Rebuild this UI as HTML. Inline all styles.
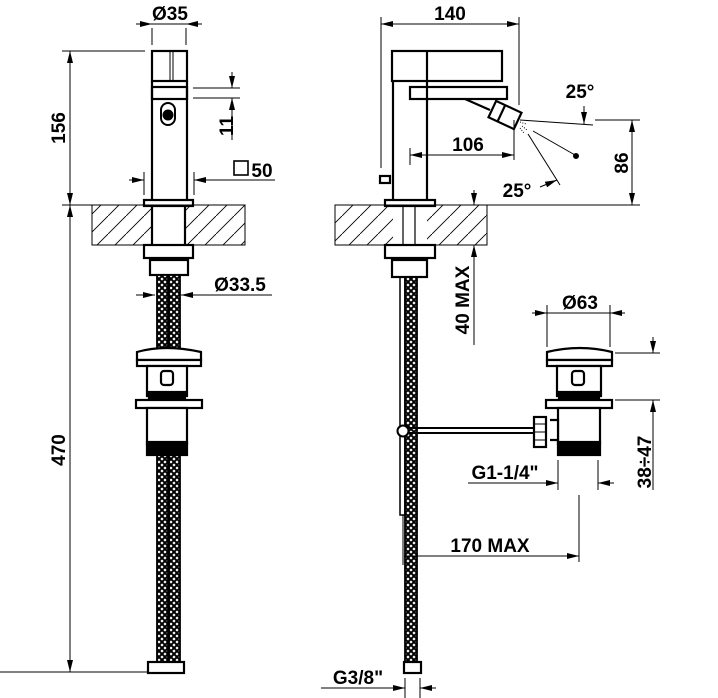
<!DOCTYPE html>
<html><head><style>html,body{margin:0;padding:0;background:#fff}svg{display:block}text{font-family:"Liberation Sans",Arial,sans-serif;font-weight:bold;fill:#000}</style></head><body>
<svg width="718" height="698" viewBox="0 0 718 698" xmlns="http://www.w3.org/2000/svg">
<defs>
<marker id="a" viewBox="0 0 12 6" refX="12" refY="3" markerWidth="12" markerHeight="6" markerUnits="userSpaceOnUse" orient="auto-start-reverse"><path d="M0,0L12,3L0,6z" fill="#000"/></marker>
<pattern id="h" patternUnits="userSpaceOnUse" width="18" height="18"><path d="M-2,20L20,-2" stroke="#000" stroke-width="0.9"/></pattern>
<pattern id="b" patternUnits="userSpaceOnUse" width="6" height="6"><rect width="6" height="6" fill="#fff"/><path d="M0,0L6,6M6,0L0,6" stroke="#000" stroke-width="2"/></pattern>
</defs>
<g stroke="#000" stroke-width="1" fill="none">
<rect x="92" y="205" width="153" height="40" fill="url(#h)"/>
<rect x="152" y="206" width="34" height="38" fill="#fff" stroke="none"/>
<line x1="62" y1="205" x2="245" y2="205"/>
<line x1="62" y1="51" x2="145" y2="51"/>
<line x1="70" y1="51" x2="70" y2="205" marker-start="url(#a)" marker-end="url(#a)"/>
<line x1="70" y1="205" x2="70" y2="672" marker-start="url(#a)" marker-end="url(#a)"/>
<line x1="0" y1="672" x2="147" y2="672"/>
<line x1="136" y1="24" x2="152" y2="24" marker-end="url(#a)"/>
<line x1="202" y1="24" x2="186" y2="24" marker-end="url(#a)"/>
<line x1="152" y1="24" x2="186" y2="24"/>
<line x1="152" y1="28" x2="152" y2="45"/><line x1="186" y1="28" x2="186" y2="45"/>
<g stroke-width="2.2">
<rect x="152" y="51" width="35" height="30"/>
<line x1="170" y1="52" x2="170" y2="81" stroke-width="1"/><line x1="173" y1="52" x2="173" y2="81" stroke-width="1"/>
<rect x="152" y="87" width="35" height="12"/>
<line x1="152" y1="81" x2="152" y2="200"/><line x1="187" y1="81" x2="187" y2="200"/>
<rect x="144" y="200" width="49" height="6"/>
<line x1="152" y1="206" x2="152" y2="245"/><line x1="185" y1="206" x2="185" y2="245"/>
<rect x="144" y="245" width="49" height="13"/>
<rect x="150" y="260" width="38" height="15"/>
</g>
<rect x="161" y="103" width="14" height="22" rx="7" stroke-width="2"/>
<circle cx="168" cy="115" r="5" fill="#000"/>
<line x1="193" y1="88" x2="240" y2="88"/><line x1="193" y1="98" x2="240" y2="98"/>
<line x1="232" y1="72" x2="232" y2="88" marker-end="url(#a)"/>
<line x1="232" y1="140" x2="232" y2="98" marker-end="url(#a)"/>
<line x1="144" y1="172" x2="144" y2="195"/><line x1="194" y1="172" x2="194" y2="195"/>
<line x1="129" y1="180" x2="144" y2="180" marker-end="url(#a)"/>
<line x1="275" y1="180" x2="194" y2="180" marker-end="url(#a)"/>
<rect x="234" y="161" width="14" height="14" stroke-width="1.6"/>
<line x1="136" y1="295" x2="155" y2="295" marker-end="url(#a)"/>
<line x1="272" y1="295" x2="181" y2="295" marker-end="url(#a)"/>
<rect x="157" y="275" width="11" height="387" fill="url(#b)" stroke-width="1.8"/>
<rect x="169" y="275" width="11" height="387" fill="url(#b)" stroke-width="1.8"/>
<g stroke-width="2.2" fill="#fff">
<path d="M137,352 Q165,344 201,352 L201,360 L137,360 Z"/>
<rect x="137" y="360" width="64" height="6"/>
<rect x="147" y="366" width="40" height="30"/>
<rect x="161" y="371" width="12" height="14" rx="3"/>
<rect x="149" y="392" width="36" height="7" fill="#000"/>
<rect x="136" y="400" width="66" height="8"/>
<rect x="147" y="408" width="40" height="36"/>
<rect x="147" y="442" width="40" height="13" fill="#000"/>
<rect x="148" y="662" width="36" height="11"/>
</g>
<rect x="335" y="205" width="152" height="40" fill="url(#h)"/>
<rect x="393" y="206" width="34" height="38" fill="#fff" stroke="none"/>
<line x1="420" y1="205" x2="640" y2="205"/>
<line x1="381" y1="24" x2="519" y2="24" marker-start="url(#a)" marker-end="url(#a)"/>
<line x1="381" y1="17" x2="381" y2="168"/><line x1="519" y1="17" x2="519" y2="105"/>
<g stroke-width="2.2">
<rect x="392" y="51" width="110" height="30"/>
<line x1="427" y1="51" x2="427" y2="81"/>
<line x1="393" y1="81" x2="393" y2="200"/><line x1="427" y1="81" x2="427" y2="200"/>
<rect x="410" y="87" width="97" height="12"/>
<path d="M465,99 L490,110"/>
<g transform="translate(505,115) rotate(25)"><rect x="-14" y="-9" width="28" height="18" fill="#fff"/><line x1="-4" y1="-9" x2="-4" y2="9"/></g>
<rect x="380" y="176" width="10" height="7"/>
<rect x="385" y="200" width="50" height="6"/>
<line x1="403" y1="206" x2="403" y2="245" stroke-width="1.2"/><line x1="415" y1="206" x2="415" y2="245" stroke-width="1.2"/>
<rect x="385" y="245" width="50" height="13"/>
<rect x="392" y="260" width="35" height="17"/>
</g>
<line x1="410" y1="148" x2="410" y2="165"/><line x1="514" y1="120" x2="514" y2="160"/>
<line x1="410" y1="155" x2="514" y2="155" marker-start="url(#a)" marker-end="url(#a)"/>
<line x1="520" y1="120" x2="593" y2="125"/>
<line x1="595" y1="120" x2="640" y2="120"/>
<line x1="584" y1="106" x2="584" y2="124" marker-end="url(#a)"/>
<line x1="533" y1="131" x2="575" y2="155"/><circle cx="576" cy="156" r="2.5" fill="#000"/>
<line x1="528" y1="134" x2="560" y2="185"/>
<line x1="540" y1="187" x2="557" y2="180" marker-end="url(#a)"/>
<path d="M520,122l6,2M522,126l5,4M520,128l4,5" stroke-dasharray="1,1.5"/>
<line x1="632" y1="120" x2="632" y2="205" marker-start="url(#a)" marker-end="url(#a)"/>
<line x1="474" y1="190" x2="474" y2="205" marker-end="url(#a)"/>
<line x1="474" y1="345" x2="474" y2="245" marker-end="url(#a)"/>
<rect x="405" y="277" width="12" height="385" fill="url(#b)" stroke-width="1.8"/>
<rect x="400" y="277" width="5" height="238" stroke-width="1.5"/>
<line x1="403" y1="515" x2="403" y2="565"/>
<line x1="403" y1="428" x2="534" y2="428" stroke-width="2"/><line x1="403" y1="433" x2="534" y2="433" stroke-width="2"/>
<circle cx="403" cy="431" r="5.5" fill="#fff" stroke-width="2"/>
<rect x="404" y="662" width="17" height="11" fill="#fff" stroke-width="2.2"/>
<g stroke-width="2.2" fill="#fff">
<path d="M547,352 Q580,344 612,352 L612,360 L547,360 Z"/>
<rect x="547" y="360" width="65" height="6"/>
<rect x="557" y="366" width="44" height="30"/>
<rect x="572" y="371" width="12" height="14" rx="3"/>
<rect x="559" y="392" width="40" height="7" fill="#000"/>
<rect x="546" y="400" width="66" height="8"/>
<rect x="558" y="408" width="42" height="36"/>
<rect x="558" y="442" width="42" height="13" fill="#000"/>
<path d="M550,420 L558,420 L558,440 L550,440"/>
<rect x="534" y="417" width="12" height="30"/>
<line x1="534" y1="424" x2="546" y2="424" stroke-width="1"/><line x1="534" y1="432" x2="546" y2="432" stroke-width="1"/><line x1="534" y1="440" x2="546" y2="440" stroke-width="1"/>
</g>
<line x1="547" y1="305" x2="547" y2="347"/><line x1="610" y1="305" x2="610" y2="347"/>
<line x1="532" y1="313" x2="547" y2="313" marker-end="url(#a)"/>
<line x1="625" y1="313" x2="610" y2="313" marker-end="url(#a)"/>
<line x1="547" y1="313" x2="610" y2="313"/>
<line x1="615" y1="353" x2="660" y2="353"/><line x1="615" y1="400" x2="660" y2="400"/>
<line x1="653" y1="337" x2="653" y2="353" marker-end="url(#a)"/>
<line x1="653" y1="490" x2="653" y2="400" marker-end="url(#a)"/>
<line x1="558" y1="460" x2="558" y2="490"/><line x1="598" y1="460" x2="598" y2="490"/>
<line x1="468" y1="483" x2="558" y2="483" marker-end="url(#a)"/>
<line x1="614" y1="483" x2="598" y2="483" marker-end="url(#a)"/>
<line x1="579" y1="495" x2="579" y2="562"/>
<line x1="404" y1="556" x2="579" y2="556" marker-end="url(#a)"/>
<line x1="405" y1="678" x2="405" y2="698"/><line x1="420" y1="678" x2="420" y2="698"/>
<line x1="321" y1="688" x2="405" y2="688" marker-end="url(#a)"/>
<line x1="436" y1="688" x2="420" y2="688" marker-end="url(#a)"/>
</g>
<g font-size="19">
<text x="170" y="20" text-anchor="middle">Ø35</text>
<text x="262" y="177" text-anchor="middle">50</text>
<text x="240" y="291" text-anchor="middle">Ø33.5</text>
<text transform="translate(65,128) rotate(-90)" text-anchor="middle">156</text>
<text transform="translate(65,450) rotate(-90)" text-anchor="middle">470</text>
<text transform="translate(233,126) rotate(-90)" text-anchor="middle">11</text>
<text x="450" y="20" text-anchor="middle">140</text>
<text x="468" y="151" text-anchor="middle">106</text>
<text x="580" y="98" text-anchor="middle">25°</text>
<text x="517" y="197" text-anchor="middle">25°</text>
<text transform="translate(628,163) rotate(-90)" text-anchor="middle">86</text>
<text transform="translate(469,300) rotate(-90)" text-anchor="middle">40 MAX</text>
<text x="580" y="309" text-anchor="middle">Ø63</text>
<text transform="translate(651,462) rotate(-90)" text-anchor="middle">38÷47</text>
<text x="505" y="479" text-anchor="middle">G1-1/4"</text>
<text x="490" y="552" text-anchor="middle">170 MAX</text>
<text x="358" y="684" text-anchor="middle">G3/8"</text>
</g>
</svg>
</body></html>
